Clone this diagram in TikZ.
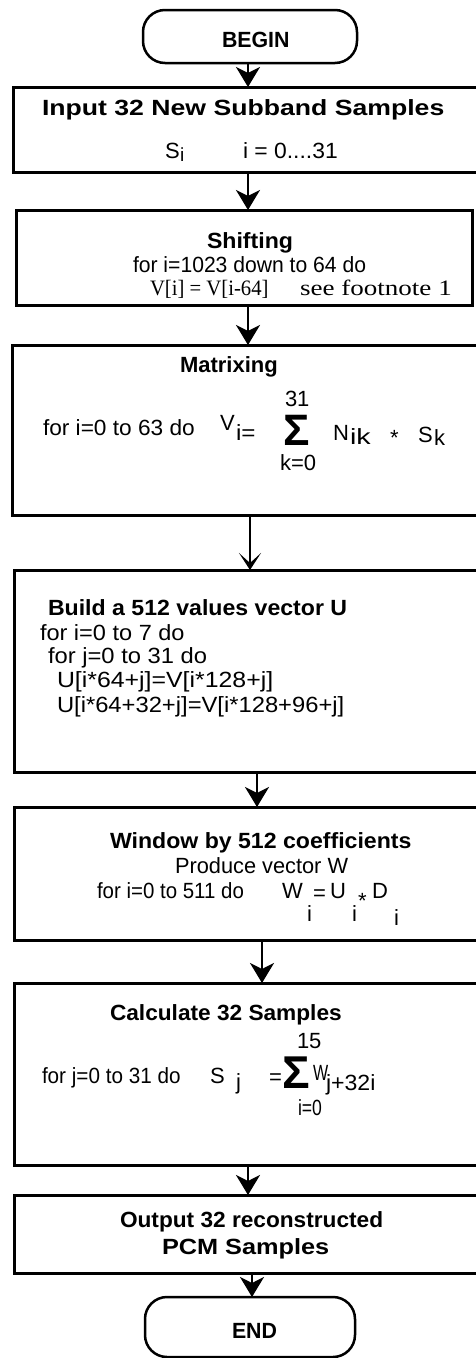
\documentclass[tikz,border=0pt]{standalone}
\usepackage{graphicx}
\usepackage{fontspec}
\setmainfont{Liberation Sans}
\newfontfamily\seriffam{Liberation Serif}
\usetikzlibrary{arrows.meta}
\newcommand{\hx}[2]{\scalebox{#1}[1]{#2}}
\begin{document}
\begin{tikzpicture}[x=1pt,y=-1pt,
  box/.style={draw, line width=3pt, inner sep=0pt, outer sep=0pt},
  term/.style={draw, line width=2.5pt, rounded corners=22pt, inner sep=0pt, outer sep=0pt},
  txt/.style={inner sep=0pt, outer sep=0pt, anchor=base west, font=\fontsize{22}{26}\selectfont},
  btxt/.style={txt, font=\fontsize{22}{26}\selectfont\bfseries},
  stxt/.style={txt, font=\fontsize{22}{26}\selectfont\seriffam},
  subt/.style={txt, font=\fontsize{19}{22}\selectfont},
  sig/.style={txt, font=\fontsize{44}{44}\selectfont\bfseries},
  arr/.style={line width=2.2pt, -{Stealth[length=20pt,width=24pt,inset=6pt]}},
  arrb/.style={line width=2.2pt, -{Stealth[length=17pt,width=22pt,inset=10pt]}}]
\useasboundingbox (0,0) rectangle (475,1358);

% terminals and boxes
\node[term, minimum width=214pt, minimum height=53pt] (begin) at (250,36.5) {};
\node[box, minimum width=467pt, minimum height=85pt] (b1) at (246.5,129.5) {};
\node[box, minimum width=456pt, minimum height=95pt] (b2) at (244,257.5) {};
\node[box, minimum width=468pt, minimum height=170pt] (b3) at (246,430) {};
\node[box, minimum width=466pt, minimum height=202pt] (b4) at (247,671) {};
\node[box, minimum width=466pt, minimum height=133pt] (b5) at (247,873.5) {};
\node[box, minimum width=466pt, minimum height=182pt] (b6) at (247,1074) {};
\node[box, minimum width=466pt, minimum height=78pt] (b7) at (247,1234) {};
\node[term, minimum width=210pt, minimum height=60pt] (end) at (250,1327) {};

% connectors
\draw[arr] ([xshift=-2pt]begin.south) -- ([xshift=1.5pt]b1.north);
\draw[arr] ([xshift=1.5pt]b1.south) -- ([xshift=4pt]b2.north);
\draw[arr] ([xshift=4pt]b2.south) -- ([xshift=2pt]b3.north);
\draw[arrb] ([xshift=4pt]b3.south) -- ([xshift=3pt]b4.north);
\draw[arr] ([xshift=10pt]b4.south) -- ([xshift=10pt]b5.north);
\draw[arr] ([xshift=15pt]b5.south) -- ([xshift=15pt]b6.north);
\draw[arr] ([xshift=1pt]b6.south) -- ([xshift=1pt]b7.north);
\draw[arr] ([xshift=5pt]b7.south) -- ([xshift=2pt]end.north);

% BEGIN
\node[btxt] (tb) at (222,47) {\hx{0.97}{BEGIN}};

% box 1
\node[btxt] (t1) at (42,115) {\hx{1.21}{Input 32 New Subband Samples}};
\node[txt] (t1s) at (165,158) {S};
\node[subt] (t1si) at (180,161) {i};
\node[txt] (t1r) at (243,158) {\hx{1.04}{i = 0....31}};

% box 2
\node[btxt] (t2) at (207,248) {\hx{1.05}{Shifting}};
\node[txt] (t2a) at (133,272) {\hx{0.96}{for i=1023 down to 64 do}};
\node[stxt] (t2b) at (150,295) {\hx{0.94}{V[i] = V[i-64]}};
\node[stxt] (t2c) at (300,295) {\hx{1.23}{see footnote 1}};

% box 3
\node[btxt] (t3) at (180,372) {\hx{1.0}{Matrixing}};
\node[txt] (t3u) at (285,406) {31};
\node[txt] (t3a) at (43,435) {\hx{1.03}{for i=0 to 63 do}};
\node[txt] (t3v) at (220,430) {V};
\node[txt] (t3vi) at (236,440) {\hx{1.1}{i=}};
\node[sig] (t3sig) at (283,445) {Σ};
\node[txt] (t3l) at (280,470) {k=0};
\node[txt] (t3n) at (333,440) {N};
\node[txt] (t3ni) at (350,444) {\hx{1.3}{ik}};
\node[txt] (t3m) at (390,445) {*};
\node[txt] (t3sk) at (418,442) {S};
\node[txt] (t3k) at (434,445) {k};

% box 4
\node[btxt] (t4) at (48,615) {\hx{1.05}{Build a 512 values vector U}};
\node[txt] (t4a) at (40,640) {\hx{1.07}{for i=0 to 7 do}};
\node[txt] (t4b) at (48,663) {\hx{1.08}{for j=0 to 31 do}};
\node[txt] (t4c) at (57,687) {\hx{1.13}{U[i*64+j]=V[i*128+j]}};
\node[txt] (t4d) at (57,712) {\hx{1.08}{U[i*64+32+j]=V[i*128+96+j]}};

% box 5
\node[btxt] (t5) at (110,848) {\hx{1.05}{Window by 512 coefficients}};
\node[txt] (t5a) at (175,873) {\hx{0.99}{Produce vector W}};
\node[txt] (t5b) at (97,898) {\hx{0.93}{for i=0 to 511 do}};
\node[txt] (t5w) at (282,898) {W};
\node[txt] (t5wi) at (307,921) {i};
\node[txt] (t5eq) at (313,900) {=};
\node[txt] (t5u) at (330,898) {U};
\node[txt] (t5ui) at (352,921) {i};
\node[txt] (t5m) at (358,908) {*};
\node[txt] (t5d) at (372,898) {D};
\node[txt] (t5di) at (394,925) {i};

% box 6
\node[btxt] (t6) at (110,1020) {\hx{1.03}{Calculate 32 Samples}};
\node[txt] (t6u) at (297,1048) {15};
\node[txt] (t6a) at (42,1083) {\hx{0.94}{for j=0 to 31 do}};
\node[txt] (t6s) at (210,1083) {S};
\node[txt] (t6sj) at (236,1089) {j};
\node[txt] (t6eq) at (269,1084) {=};
\node[sig, font=\fontsize{46}{46}\selectfont\bfseries] (t6sig) at (282,1088) {Σ};
\node[txt] (t6w) at (313,1080) {\hx{0.73}{W}};
\node[txt] (t6wi) at (326,1090) {\hx{1.05}{j+32i}};
\node[txt] (t6l) at (298,1115) {\hx{0.8}{i=0}};

% box 7
\node[btxt] (t7) at (120,1227) {\hx{1.03}{Output 32 reconstructed}};
\node[btxt] (t7b) at (162,1254) {\hx{1.15}{PCM Samples}};

% END
\node[btxt] (te) at (232,1338) {\hx{0.97}{END}};
\end{tikzpicture}
\end{document}
